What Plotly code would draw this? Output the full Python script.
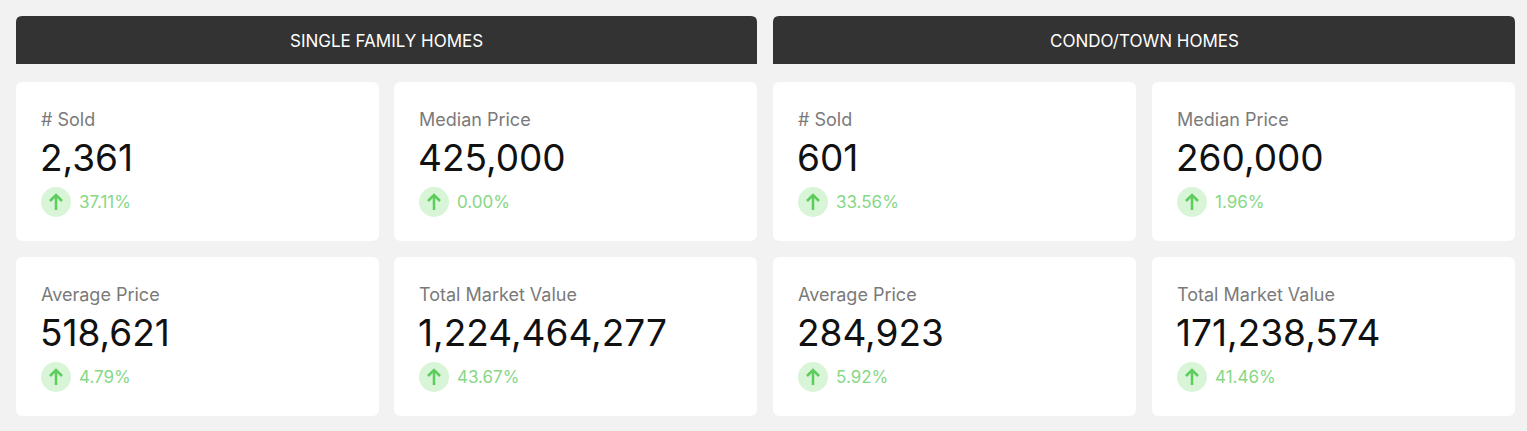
import plotly.graph_objects as go

sections = ["SINGLE FAMILY HOMES", "CONDO/TOWN HOMES"]
metric_labels = ["# Sold", "Median Price", "Average Price", "Total Market Value"]
values_sf = ["2,361", "425,000", "518,621", "1,224,464,277"]
changes_sf = ["37.11%", "0.00%", "4.79%", "43.67%"]
values_ct = ["601", "260,000", "284,923", "171,238,574"]
changes_ct = ["33.56%", "1.96%", "5.92%", "41.46%"]

W, H = 1527, 431
FONT = "Inter, Lato, sans-serif"
fig = go.Figure()
shapes, ann = [], []

def rrect(x0, y0, x1, y1, r, color, top_only=False):
    if top_only:
        p = (f"M{x0},{y1} L{x0},{y0+r} Q{x0},{y0} {x0+r},{y0} L{x1-r},{y0} "
             f"Q{x1},{y0} {x1},{y0+r} L{x1},{y1} Z")
    else:
        p = (f"M{x0+r},{y0} L{x1-r},{y0} Q{x1},{y0} {x1},{y0+r} L{x1},{y1-r} "
             f"Q{x1},{y1} {x1-r},{y1} L{x0+r},{y1} Q{x0},{y1} {x0},{y1-r} "
             f"L{x0},{y0+r} Q{x0},{y0} {x0+r},{y0} Z")
    shapes.append(dict(type="path", path=p, fillcolor=color, line=dict(width=0),
                       xref="x", yref="y", layer="below"))

sec_x = [(16, 757), (773, 1515)]
card_cols = [[(16, 379), (394, 757)], [(773, 1136), (1152, 1515)]]
rows = [(82, 241), (257, 416)]
data = [(values_sf, changes_sf), (values_ct, changes_ct)]

for s, name in enumerate(sections):
    x0, x1 = sec_x[s]
    rrect(x0, 16, x1, 64, 6, "#333333", top_only=True)
    ann.append(dict(x=(x0 + x1) / 2, y=41, text=name, showarrow=False,
                    font=dict(family=FONT, size=17, color="white")))
    vals, chs = data[s]
    for i in range(4):
        r, c = divmod(i, 2)
        cx0, cx1 = card_cols[s][c]
        y0, y1 = rows[r]
        rrect(cx0, y0, cx1, y1, 7, "white")
        lx = cx0 + 25
        ann.append(dict(x=lx - 2, y=y0 + 37, text=metric_labels[i], showarrow=False, xanchor="left",
                        font=dict(family=FONT, size=18, color="#7a7a7a")))
        ann.append(dict(x=lx - 3, y=y0 + 75, text=vals[i], showarrow=False, xanchor="left",
                        font=dict(family=FONT, size=37, color="#111111")))
        ccx, ccy = lx + 15, y0 + 120
        shapes.append(dict(type="circle", x0=ccx - 15, x1=ccx + 15, y0=ccy - 15, y1=ccy + 15,
                           fillcolor="#d8f5d8", line=dict(width=0), xref="x", yref="y"))
        shapes.append(dict(type="line", x0=ccx, x1=ccx, y0=ccy - 7, y1=ccy + 8,
                           line=dict(color="#5ccc5c", width=2.5), xref="x", yref="y"))
        shapes.append(dict(type="path", path=f"M{ccx-6},{ccy-1} L{ccx},{ccy-7} L{ccx+6},{ccy-1}",
                           line=dict(color="#5ccc5c", width=2.5), xref="x", yref="y"))
        ann.append(dict(x=lx + 36, y=ccy, text=chs[i], showarrow=False, xanchor="left",
                        font=dict(family=FONT, size=17, color="#86d886")))

fig.update_layout(width=W, height=H, margin=dict(l=0, r=0, t=0, b=0),
                  paper_bgcolor="#f2f2f2", plot_bgcolor="#f2f2f2",
                  xaxis=dict(range=[0, W], visible=False, fixedrange=True),
                  yaxis=dict(range=[H, 0], visible=False, fixedrange=True),
                  shapes=shapes, annotations=ann, showlegend=False)
fig.write_html("out.html", config={"displayModeBar": False})

with open("out.html", encoding="utf-8") as f:
    html = f.read()
html = html.replace("<body>", '<body style="margin:0;background:#f2f2f2;overflow:hidden">', 1)
with open("out.html", "w", encoding="utf-8") as f:
    f.write(html)
